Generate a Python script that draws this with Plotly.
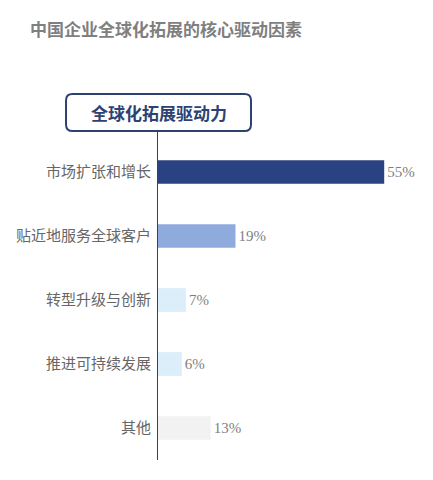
import plotly.graph_objects as go

# data
categories = ['市场扩张和增长', '贴近地服务全球客户', '转型升级与创新', '推进可持续发展', '其他']
shares = [55, 19, 7, 6, 13]
bar_colors = ['#2b4282', '#8faadc', '#dbeefa', '#dbeefa', '#f2f2f2']
share_labels = [f'{v}%' for v in shares]

NAVY = '#2e4272'
GRAY = '#7f7f7f'

fig = go.Figure(go.Bar(
    x=shares, y=categories, orientation='h',
    marker=dict(color=bar_colors, line=dict(width=0)),
    width=0.37,
    text=share_labels, textposition='outside', cliponaxis=False,
    textfont=dict(family='Liberation Serif', size=15, color=GRAY),
    hoverinfo='skip',
))


def rounded_rect(x0, y0, x1, y1, rx, ry):
    return (f'M {x0+rx},{y0} L {x1-rx},{y0} Q {x1},{y0} {x1},{y0+ry} '
            f'L {x1},{y1-ry} Q {x1},{y1} {x1-rx},{y1} L {x0+rx},{y1} '
            f'Q {x0},{y1} {x0},{y1-ry} L {x0},{y0+ry} Q {x0},{y0} {x0+rx},{y0} Z')


shapes = [
    # axis line running up into the box
    dict(type='line', xref='x', yref='paper', x0=0, x1=0, y0=0, y1=1.028,
         line=dict(color=NAVY, width=2)),
    dict(type='path', xref='paper', yref='paper',
         path=rounded_rect(-0.361, 1.028, 0.373, 1.144, 0.026, 0.02),
         line=dict(color=NAVY, width=2), fillcolor='white'),
]

# the page body adds 8px on the left and top, so the margins are 8px smaller
fig.update_layout(
    width=433, height=480,
    margin=dict(l=149, r=32, t=132, b=28),
    plot_bgcolor='white', paper_bgcolor='white',
    showlegend=False,
    shapes=shapes,
    title=dict(text='<b>中国企业全球化拓展的核心驱动因素</b>', xref='container', yref='container',
               x=22/433, y=1-22/480, xanchor='left', yanchor='middle',
               font=dict(family='Noto Sans CJK SC', size=17, color=GRAY)),
    annotations=[dict(text='<b>全球化拓展驱动力</b>', xref='paper', yref='paper',
                      x=0.006, y=1.086, xanchor='center', yanchor='middle', showarrow=False,
                      font=dict(family='Noto Sans CJK SC', size=17, color=NAVY))],
    xaxis=dict(range=[0, 61], visible=False),
    yaxis=dict(autorange='reversed', showline=False, showgrid=False, ticks='',
               ticklabelstandoff=5, automargin=False,
               tickfont=dict(family='Noto Sans CJK SC', size=15, color='#666666')),
)

fig.write_html('out.html')
